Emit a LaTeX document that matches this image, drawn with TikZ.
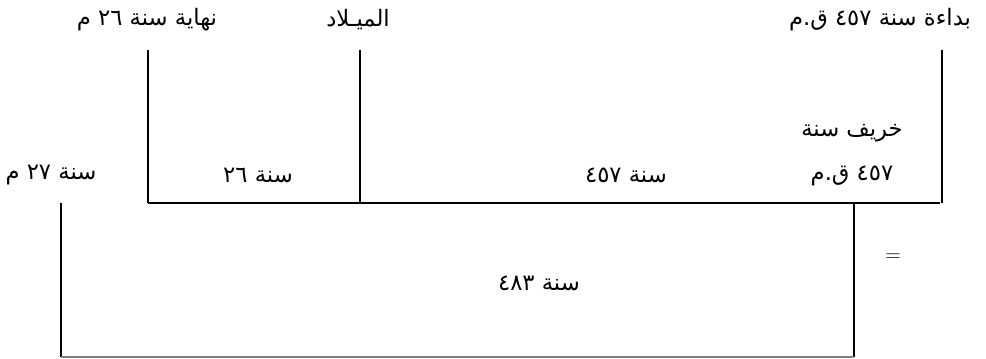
\documentclass[tikz,border=0pt]{standalone}
\usepackage{fontspec}
\newfontfamily\arabicfont[Script=Arabic]{DejaVu Sans}
\TeXXeTstate=1

\begin{document}
\begin{tikzpicture}[x=0.75pt,y=-0.75pt,line width=1.2pt,
  lbl/.style={font=\arabicfont\fontsize{17}{20}\selectfont,inner sep=0pt}]
  \useasboundingbox (0,0) rectangle (986,358);
  \coordinate (endTop) at (148,50);
  \coordinate (birthTop) at (360,50);
  \coordinate (beginTop) at (942,50);
  \coordinate (endBase) at (148,203);
  \coordinate (birthBase) at (360,203);
  \coordinate (beginBase) at (942,203);
  \coordinate (baseRight) at (940,203);
  \coordinate (totL) at (61,203);
  \coordinate (totR) at (854,203);
  \coordinate (totLB) at (61,357);
  \coordinate (totRB) at (854,357);
  \draw (endTop)--(endBase) (birthTop)--(birthBase) (beginTop)--(beginBase);
  \draw (endBase)--(baseRight);
  \draw (totL)--(totLB) (totR)--(totRB);
  \draw[gray,line width=0.8pt] (totLB)--(totRB);
  \node[lbl] (lblEnd) at (147,20) {\beginR نهاية سنة \beginL ٢٦\endL{} م\endR};
  \node[lbl] (lblBirth) at (358,20) {\beginR الميـلاد\endR};
  \node[lbl] (lblBegin) at (880,20) {\beginR بداءة سنة \beginL ٤٥٧\endL{} ق.م\endR};
  \node[lbl] (lblYear) at (51,175) {\beginR سنة \beginL ٢٧\endL{} م\endR};
  \node[lbl] (lblSpanA) at (258,175) {\beginR سنة \beginL ٢٦\endL\endR};
  \node[lbl] (lblSpanB) at (626,175) {\beginR سنة \beginL ٤٥٧\endL\endR};
  \node[lbl] (lblAutumn) at (852,133) {\beginR خريف سنة\endR};
  \node[lbl] (lblAutumnYr) at (852,176) {\beginR \beginL ٤٥٧\endL{} ق.م\endR};
  \node[lbl] (lblTotal) at (539,283) {\beginR سنة \beginL ٤٨٣\endL\endR};
  \node[font=\fontsize{16}{18}\selectfont,inner sep=0pt] (lblEq) at (893,258) {=};
\end{tikzpicture}
\end{document}
